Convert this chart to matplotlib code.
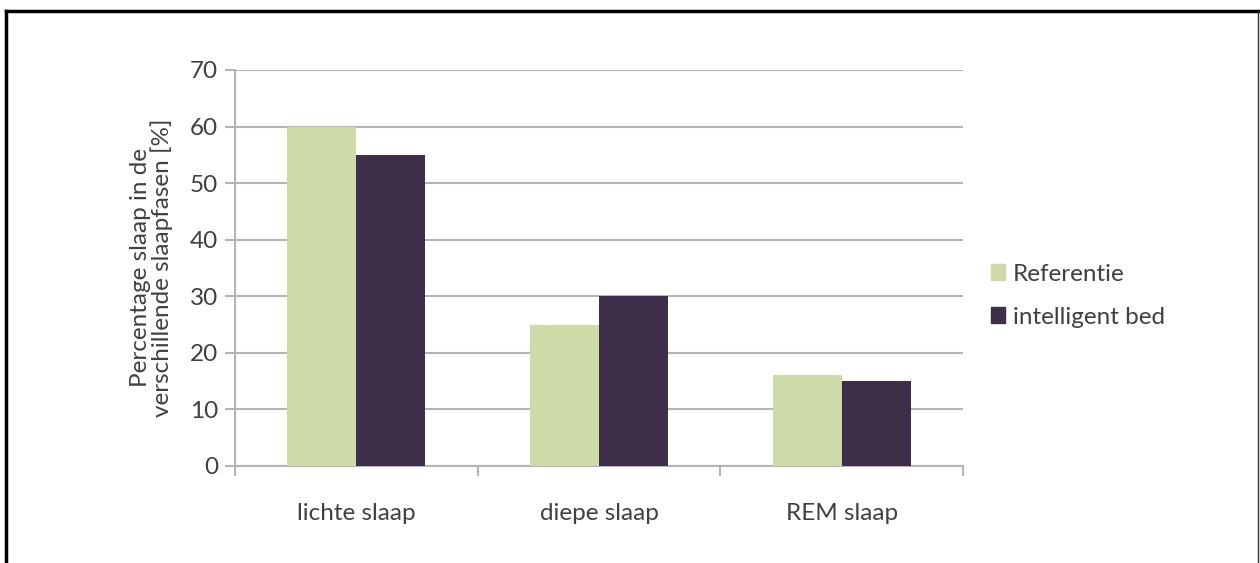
import numpy as np
import matplotlib
matplotlib.use('Agg')
import matplotlib.pyplot as plt
from matplotlib.lines import Line2D
from matplotlib.patches import Patch

# slaapfasen en percentages
fasen = ['lichte slaap', 'diepe slaap', 'REM slaap']
referentie = [60, 25, 16]
intelligent_bed = [55, 30, 15]
series_namen = ['Referentie', 'intelligent bed']
yticks = [0, 10, 20, 30, 40, 50, 60, 70]

kleur_ref = '#cddba8'
kleur_bed = '#3d2f49'
tekst = '#404040'
raster = '#b5b5b5'
fs = 17.5

plt.rcParams['font.family'] = ['Lato', 'DejaVu Sans']

fig = plt.figure(figsize=(12.6, 5.63), dpi=100)
ax = fig.add_axes([0.1865, 0.1723, 0.5778, 0.7034])

x = np.arange(len(fasen))
breedte = 0.284
ax.bar(x - breedte / 2, referentie, breedte, color=kleur_ref, zorder=3)
ax.bar(x + breedte / 2, intelligent_bed, breedte, color=kleur_bed, zorder=3)

ax.set_xlim(-0.5, len(fasen) - 0.5)
ax.set_ylim(0, 70)
ax.set_yticks(yticks)
ax.set_yticklabels([str(t) for t in yticks], fontsize=fs, color=tekst)
ax.yaxis.grid(True, color=raster, linewidth=1.5, zorder=0)

# categorielabels in het midden, tickstreepjes tussen de groepen
ax.set_xticks(np.arange(len(fasen) + 1) - 0.5)
ax.set_xticklabels([])
ax.set_xticks(x, minor=True)
ax.set_xticklabels(fasen, minor=True, fontsize=fs, color=tekst)
ax.tick_params(axis='x', which='minor', length=0, pad=27)
ax.tick_params(axis='x', which='major', length=7, color=raster, width=1.5)
ax.tick_params(axis='y', length=7, color=raster, width=1.5, pad=5)

for s in ['top', 'right']:
    ax.spines[s].set_visible(False)
for s in ['left', 'bottom']:
    ax.spines[s].set_color(raster)
    ax.spines[s].set_linewidth(1.5)

ax.set_ylabel('Percentage slaap in de\nverschillende slaapfasen [%]',
              fontsize=fs, color=tekst, labelpad=12, linespacing=1.0)

handles = [Patch(color=kleur_ref), Patch(color=kleur_bed)]
fig.legend(handles, series_namen, loc='center left',
           bbox_to_anchor=(0.769, 0.475), frameon=False, fontsize=fs,
           labelcolor=tekst, handlelength=0.6, handleheight=0.6,
           handletextpad=0.3, labelspacing=0.9)

# kader rond de figuur
fig.add_artist(Line2D([0.0045, 0.9985], [0.9805, 0.9805], color='black', linewidth=2.5))
fig.add_artist(Line2D([0.0045, 0.0045], [0.0, 0.9805], color='black', linewidth=2.5))
fig.add_artist(Line2D([0.9985, 0.9985], [0.0, 0.9805], color='#333333', linewidth=1.0))

fig.savefig('out.png', dpi=100)
